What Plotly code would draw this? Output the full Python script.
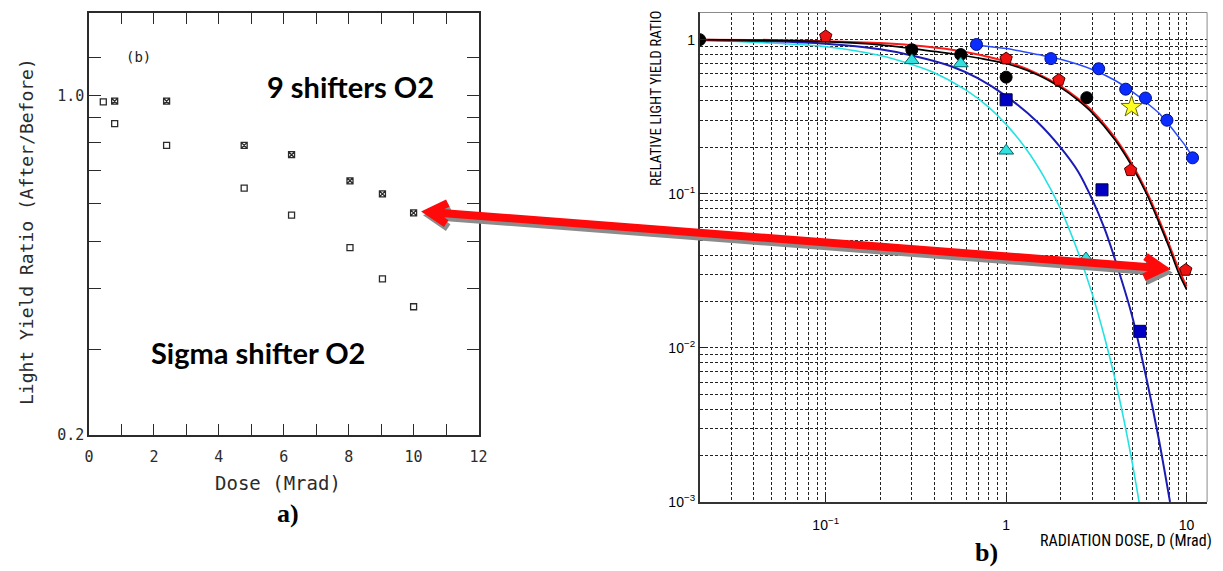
import numpy as np
import plotly.graph_objects as go

W, H = 1223, 571

# ---------------- panel a) : linear dose, log ratio ----------------
dose_nine = [0.79, 2.39, 4.78, 6.24, 8.04, 9.04, 10.0]
ratio_nine = [0.973, 0.973, 0.789, 0.755, 0.667, 0.627, 0.573]
dose_sigma = [0.44, 0.79, 2.39, 4.78, 6.24, 8.04, 9.04, 10.0]
ratio_sigma = [0.970, 0.875, 0.789, 0.644, 0.567, 0.486, 0.419, 0.367]

a_xticks = [0, 2, 4, 6, 8, 10, 12]
a_xlabels = ["0", "2", "4", "6", "8", "10", "12"]
a_xminor = [1, 3, 5, 7, 9, 11]
a_yticks = [0.2, 1.0]
a_ylabels = ["0.2", "1.0"]
a_ymid = [0.3, 0.4, 0.5, 0.6, 0.7, 0.8, 0.9, 1.2]
a_ysmall = [0.22, 0.24, 0.26, 0.28, 0.32, 0.34, 0.36, 0.38, 0.42, 0.44, 0.46, 0.48,
            0.52, 0.54, 0.56, 0.58, 0.62, 0.64, 0.66, 0.68, 0.72, 0.74, 0.76, 0.78,
            0.82, 0.84, 0.86, 0.88, 0.92, 0.94, 0.96, 0.98, 1.1, 1.3, 1.4]

# ---------------- panel b) : log dose, log ratio ----------------
black_d = [0.02, 0.30, 0.56, 1.0, 2.8]
black_y = [1.0, 0.859, 0.80, 0.571, 0.42]
red_d = [0.1, 1.0, 1.96, 4.9, 9.9]
red_y = [1.05, 0.753, 0.547, 0.142, 0.032]
blue_d = [0.685, 1.77, 3.26, 4.6, 5.92, 7.79, 10.8]
blue_y = [0.93, 0.753, 0.647, 0.477, 0.418, 0.30, 0.171]
cyan_d = [0.30, 0.56, 1.0, 2.77]
cyan_y = [0.734, 0.70, 0.19, 0.038]
navy_d = [1.0, 3.4, 5.51]
navy_y = [0.407, 0.106, 0.0128]
star_d = [4.96]
star_y = [0.366]
ellipse_d = [4.96]
ellipse_y = [0.24]

# fitted curves
cyan_fit_d = [0.02, 0.05, 0.1, 0.2, 0.3, 0.4, 0.6, 0.8, 1.0, 1.3, 1.6, 2.0, 2.5, 3.0, 3.5, 4.0, 4.5, 5.0, 5.5]
cyan_fit_y = [0.99, 0.95, 0.90, 0.79, 0.69, 0.61, 0.47, 0.365, 0.282, 0.193, 0.132, 0.08, 0.042,
              0.0224, 0.0119, 0.0064, 0.0034, 0.0018, 0.00095]
navy_fit_d = [0.02, 0.05, 0.1, 0.2, 0.3, 0.5, 0.7, 1.0, 1.5, 2.0, 2.5, 3.0, 3.5, 4.0, 5.0, 6.0, 7.0, 8.1]
navy_fit_y = [0.995, 0.975, 0.94, 0.865, 0.79, 0.67, 0.56, 0.43, 0.29, 0.20, 0.14, 0.092, 0.060,
              0.038, 0.016, 0.0063, 0.0026, 0.001]
black_fit_d = [0.02, 0.05, 0.1, 0.2, 0.3, 0.5, 0.7, 1.0, 1.5, 2.0, 2.5, 3.0, 4.0, 5.0, 6.0, 7.0, 8.0, 9.0, 10.0]
black_fit_y = [1.0, 0.99, 0.97, 0.925, 0.875, 0.81, 0.76, 0.70, 0.59, 0.49, 0.405, 0.335, 0.225,
               0.15, 0.10, 0.066, 0.045, 0.031, 0.024]
red_fit_d = [0.02, 0.05, 0.1, 0.2, 0.3, 0.5, 0.7, 1.0, 1.5, 2.0, 2.5, 3.0, 4.0, 5.0, 6.0, 7.0, 8.0, 9.0, 10.0]
red_fit_y = [1.0, 0.995, 0.975, 0.95, 0.92, 0.86, 0.80, 0.72, 0.60, 0.50, 0.415, 0.345, 0.232,
             0.155, 0.104, 0.069, 0.047, 0.033, 0.025]
blue_fit_d = [0.69, 1.0, 1.5, 2.0, 3.0, 4.0, 5.0, 6.0, 7.0, 8.0, 9.0, 10.0, 10.8]
blue_fit_y = [0.92, 0.875, 0.80, 0.745, 0.64, 0.545, 0.46, 0.39, 0.335, 0.28, 0.235, 0.20, 0.172]

b_decades = [0.1, 1, 10]
b_xlabels = ["10<sup>\u22121</sup>", "1", "10"]
b_xgrid = [0.02, 0.03, 0.04, 0.05, 0.06, 0.07, 0.08, 0.09,
           0.2, 0.3, 0.4, 0.5, 0.6, 0.7, 0.8, 0.9,
           2, 3, 4, 5, 6, 7, 8, 9]
b_ydecades = [0.001, 0.01, 0.1, 1]
b_ylabels = ["10<sup>\u22123</sup>", "10<sup>\u22122</sup>", "10<sup>\u22121</sup>", "1"]
b_ygrid = [k * 10.0 ** e for e in (-3, -2, -1) for k in range(2, 10)]


def X(px):
    return px / W


def Y(py):
    return 1 - py / H


fig = go.Figure()

mono = "DejaVu Sans Mono"
ink = "#2b2b2b"
narrow = "Liberation Sans Narrow, Roboto Condensed, Liberation Sans"

# panel a) markers
fig.add_trace(go.Scatter(x=dose_sigma, y=ratio_sigma, mode="markers", xaxis="x", yaxis="y",
                         marker=dict(symbol="square-open", size=6, color=ink, line=dict(width=1.3, color=ink)),
                         showlegend=False))
fig.add_trace(go.Scatter(x=dose_nine, y=ratio_nine, mode="markers", xaxis="x", yaxis="y",
                         marker=dict(symbol="square-x-open", size=6, color=ink, line=dict(width=1.3, color=ink)),
                         showlegend=False))

# panel b) fitted curves
curves = [
    (cyan_fit_d, cyan_fit_y, "#25e2e2", 1.6),
    (navy_fit_d, navy_fit_y, "#1c1cb4", 2.0),
    (red_fit_d, red_fit_y, "#ff1a1a", 2.0),
    (black_fit_d, black_fit_y, "#000000", 1.7),
    (blue_fit_d, blue_fit_y, "#2a4cff", 1.5),
]
for cx, cy, col, lw in curves:
    fig.add_trace(go.Scatter(x=cx, y=cy, mode="lines", xaxis="x2", yaxis="y2",
                             line=dict(color=col, width=lw, shape="spline", smoothing=0.8),
                             showlegend=False, hoverinfo="skip"))

# panel b) measured points
markers = [
    (black_d, black_y, "circle", 12, "#000000", "#000000"),
    (red_d, red_y, "pentagon", 13, "#ee1111", "#4a0000"),
    (blue_d, blue_y, "circle", 12, "#0a2cff", "#00108a"),
    (cyan_d, cyan_y, "triangle-up", 13, "#33e0e0", "#006666"),
    (navy_d, navy_y, "square", 12, "#0000c4", "#000038"),
    (star_d, star_y, "star", 16, "#ffff22", "#6a6a00"),
]
for mx, my, sym, sz, fc, lc in markers:
    fig.add_trace(go.Scatter(x=mx, y=my, mode="markers", xaxis="x2", yaxis="y2",
                             marker=dict(symbol=sym, size=sz, color=fc, line=dict(width=1, color=lc)),
                             showlegend=False))

shapes = []
# ellipse-shaped point, sized in pixels around its data position
for ex, ey in zip(ellipse_d, ellipse_y):
    shapes.append(dict(type="circle", xref="x2", yref="y2", xsizemode="pixel", ysizemode="pixel",
                       xanchor=np.log10(ex), yanchor=np.log10(ey), x0=-7, x1=7, y0=-4.8, y1=4.8,
                       fillcolor="#ee22ee", line=dict(color="#5a005a", width=1), layer="above"))
    shapes.append(dict(type="line", xref="x2", yref="y2", xsizemode="pixel", ysizemode="pixel",
                       xanchor=np.log10(ex), yanchor=np.log10(ey), x0=0, x1=0, y0=-3, y1=3,
                       line=dict(color="#5a005a", width=1), layer="above"))

# light top/right frame of panel b)
shapes.append(dict(type="line", xref="x2 domain", yref="y2 domain", x0=0, x1=1, y0=1, y1=1,
                   line=dict(color="#8a8a8a", width=1)))
shapes.append(dict(type="line", xref="x2 domain", yref="y2 domain", x0=1, x1=1, y0=0, y1=1,
                   line=dict(color="#8a8a8a", width=1)))


# double-headed connector arrow with drop shadow (pixel geometry -> paper)
def arrow_path(p0, p1, dx=0.0, dy=0.0, arm=21.0, half=np.radians(30), inset=5.0):
    p0 = np.array(p0, float) + [dx, dy]
    p1 = np.array(p1, float) + [dx, dy]
    u = (p1 - p0) / np.linalg.norm(p1 - p0)
    a = p0 + u * inset
    b = p1 - u * inset

    def rot(v, t):
        c, s = np.cos(t), np.sin(t)
        return np.array([c * v[0] - s * v[1], s * v[0] + c * v[1]])

    def pt(p):
        return f"{X(p[0]):.5f},{Y(p[1]):.5f}"

    la1, la2 = a + rot(u, half) * arm, a + rot(u, -half) * arm
    rb1, rb2 = b + rot(-u, half) * arm, b + rot(-u, -half) * arm
    return (f"M{pt(a + u * 3)} L{pt(b - u * 3)} "
            f"M{pt(la1)} L{pt(a)} L{pt(la2)} "
            f"M{pt(rb1)} L{pt(b)} L{pt(rb2)}")


tip_left = (424, 215)
tip_right = (1176, 273)
shapes.append(dict(type="path", xref="paper", yref="paper",
                   path=arrow_path(tip_left, tip_right, dx=2, dy=4),
                   line=dict(color="#8c8c8c", width=8), layer="above"))
shapes.append(dict(type="path", xref="paper", yref="paper",
                   path=arrow_path(tip_left, tip_right),
                   line=dict(color="#ff0a0a", width=8), layer="above"))

annotations = [
    dict(text="(b)", x=X(135), y=Y(58), font=dict(family=mono, size=14, color="#222")),
    dict(text="9 shifters O2", x=X(349), y=Y(88), font=dict(family="Lato", size=29, color="#000", weight="bold")),
    dict(text="Sigma shifter O2", x=X(256), y=Y(358), font=dict(family="Lato", size=29, color="#000", weight="bold")),
    dict(text="Light Yield Ratio (After/Before)", x=X(22), y=Y(235), textangle=-90,
         font=dict(family=mono, size=18, color=ink)),
    dict(text="Dose (Mrad)", x=X(276), y=Y(491), font=dict(family=mono, size=19, color=ink)),
    dict(text="a)", x=X(286), y=Y(522), font=dict(family="Liberation Serif", size=26, color="#000", weight="bold")),
    dict(text="RELATIVE LIGHT YIELD RATIO", x=X(659), y=Y(99), textangle=-90,
         font=dict(family=narrow, size=15, color="#000")),
    dict(text="RADIATION DOSE, D (Mrad)", x=X(1134), y=Y(549),
         font=dict(family=narrow, size=16, color="#000")),
    dict(text="b)", x=X(993), y=Y(561), font=dict(family="Liberation Serif", size=26, color="#000", weight="bold")),
]
for a in annotations:
    a.setdefault("xref", "paper")
    a.setdefault("yref", "paper")
    a.setdefault("xanchor", "center")
    a.setdefault("yanchor", "middle")
    a["showarrow"] = False

a_yrange = [np.log10(0.2), np.log10(1.48)]

fig.update_layout(
    width=W, height=H, margin=dict(l=0, r=0, t=0, b=0),
    paper_bgcolor="white", plot_bgcolor="white", showlegend=False,
    xaxis=dict(domain=[X(85), X(479)], range=[0, 12], tickmode="array", tickvals=a_xticks, ticktext=a_xlabels,
               ticks="inside", ticklen=11, tickwidth=1.2, tickcolor=ink, showline=True, linecolor=ink,
               linewidth=1.5, mirror="ticks", showgrid=False, zeroline=False, anchor="y",
               ticklabelstandoff=8, tickfont=dict(family=mono, size=15, color=ink),
               minor=dict(tickmode="array", tickvals=a_xminor, ticks="inside", ticklen=11,
                          tickwidth=1.2, tickcolor=ink, showgrid=False)),
    yaxis=dict(domain=[Y(441.7), Y(13)], type="log", range=a_yrange,
               tickmode="array", tickvals=a_yticks, ticktext=a_ylabels,
               ticks="inside", ticklen=12, tickwidth=1.2, tickcolor=ink, showline=True, linecolor=ink,
               linewidth=1.5, mirror="ticks", showgrid=False, zeroline=False, anchor="x",
               tickfont=dict(family=mono, size=15, color=ink),
               minor=dict(tickmode="array", tickvals=a_ymid, ticks="inside", ticklen=12,
                          tickwidth=1.2, tickcolor=ink, showgrid=False)),
    # companion axis carrying the short unlabeled ticks of panel a)
    yaxis3=dict(overlaying="y", type="log", range=a_yrange, anchor="x", side="left",
                tickmode="array", tickvals=a_ysmall, showticklabels=False,
                ticks="inside", ticklen=5, tickwidth=1, tickcolor=ink, showline=True, linecolor=ink,
                linewidth=1.5, mirror="ticks", showgrid=False, zeroline=False),
    xaxis2=dict(domain=[X(702.7), X(1216)], type="log", range=[np.log10(0.02), np.log10(13)],
                tickmode="array", tickvals=b_decades, ticktext=b_xlabels, ticks="inside", ticklen=9,
                tickcolor="#222", showline=True, linecolor="#333", linewidth=1.5, zeroline=False,
                showgrid=True, gridcolor="#222222", gridwidth=1, griddash="3px,2px", anchor="y2",
                ticklabelstandoff=9, tickfont=dict(family="Liberation Sans", size=14, color="#000"),
                minor=dict(tickmode="array", tickvals=b_xgrid, ticks="", showgrid=True,
                           gridcolor="#222222", gridwidth=1, griddash="3px,2px")),
    yaxis2=dict(domain=[Y(510), Y(12.7)], type="log", range=[-3, np.log10(1.5)],
                tickmode="array", tickvals=b_ydecades, ticktext=b_ylabels, ticks="inside", ticklen=9,
                tickcolor="#222", showline=True, linecolor="#333", linewidth=1.5, zeroline=False,
                showgrid=True, gridcolor="#222222", gridwidth=1, griddash="3px,2px", anchor="x2",
                tickfont=dict(family="Liberation Sans", size=14, color="#000"),
                minor=dict(tickmode="array", tickvals=b_ygrid, ticks="", showgrid=True,
                           gridcolor="#222222", gridwidth=1, griddash="3px,2px")),
    shapes=shapes,
    annotations=annotations,
)

fig.write_html("out.html")
